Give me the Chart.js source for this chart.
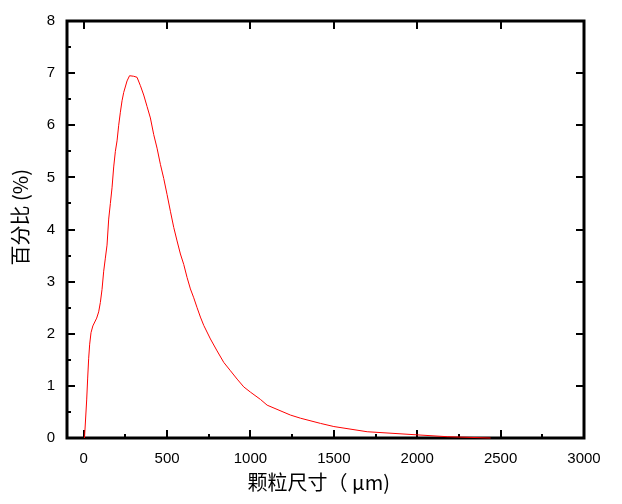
<!DOCTYPE html>
<html>
<head>
<meta charset="utf-8">
<script src="https://cdn.jsdelivr.net/npm/chart.js@4"></script>
<style>
  html, body { margin: 0; padding: 0; background: #fff; }
  #wrap { width: 622px; height: 504px; }
</style>
</head>
<body>
<div id="wrap"><canvas id="sizeChart" width="622" height="504"></canvas></div>
<script>
// particle size (um) and percentage
const sizes = [5, 18, 24, 30, 36, 44, 55, 78, 90, 100, 110, 120, 130, 140, 150, 160, 170, 180, 190, 200,
  210, 220, 230, 240, 260, 275, 300, 320, 340, 360, 380, 400, 420, 440, 460, 480, 500, 520, 540, 560,
  580, 600, 620, 640, 660, 680, 700, 720, 760, 800, 840, 880, 920, 960, 1000, 1060, 1100, 1240, 1300,
  1420, 1500, 1700, 2000, 2180, 2440];
const percents = [0, 0.73, 1.15, 1.53, 1.8, 2.02, 2.15, 2.3, 2.42, 2.6, 2.85, 3.2, 3.45, 3.7, 4.2, 4.5, 4.8, 5.2, 5.5, 5.7,
  6.0, 6.25, 6.47, 6.63, 6.85, 6.95, 6.94, 6.92, 6.76, 6.58, 6.36, 6.14, 5.82, 5.56, 5.25, 4.98, 4.67, 4.35, 4.04, 3.78,
  3.53, 3.33, 3.08, 2.86, 2.69, 2.5, 2.32, 2.16, 1.9, 1.67, 1.45, 1.29, 1.13, 0.98, 0.88, 0.74, 0.63, 0.44, 0.38,
  0.28, 0.22, 0.12, 0.06, 0.025, 0];

const xTicks = [0, 500, 1000, 1500, 2000, 2500, 3000];
const xMinor = [250, 750, 1250, 1750, 2250, 2750];
const yTicks = [0, 1, 2, 3, 4, 5, 6, 7, 8];
const yMinor = [0.5, 1.5, 2.5, 3.5, 4.5, 5.5, 6.5, 7.5];

const points = sizes.map((s, i) => ({ x: s, y: percents[i] }));

// frame with inward tick marks, drawn from the scales
const framePlugin = {
  id: "frame",
  beforeDatasetsDraw(chart) {
    const { ctx, chartArea: a, scales: { x, y } } = chart;
    ctx.save();
    ctx.strokeStyle = "#000";
    ctx.lineWidth = 2;
    ctx.beginPath();
    xTicks.forEach(v => {
      const px = Math.round(x.getPixelForValue(v));
      ctx.moveTo(px, a.bottom); ctx.lineTo(px, a.bottom - 8);
      ctx.moveTo(px, a.top); ctx.lineTo(px, a.top + 8);
    });
    xMinor.forEach(v => {
      const px = Math.round(x.getPixelForValue(v));
      ctx.moveTo(px, a.bottom); ctx.lineTo(px, a.bottom - 4);
    });
    yTicks.forEach(v => {
      const py = Math.round(y.getPixelForValue(v));
      ctx.moveTo(a.left, py); ctx.lineTo(a.left + 8, py);
      ctx.moveTo(a.right, py); ctx.lineTo(a.right - 8, py);
    });
    yMinor.forEach(v => {
      const py = Math.round(y.getPixelForValue(v));
      ctx.moveTo(a.left, py); ctx.lineTo(a.left + 4, py);
    });
    ctx.stroke();
    ctx.lineWidth = 3;
    ctx.strokeRect(a.left, a.top, a.right - a.left, a.bottom - a.top);
    ctx.restore();
  }
};

const tickFont = { family: "Liberation Sans", size: 15 };
const titleFont = { family: "Noto Sans CJK SC", size: 20 };

new Chart(document.getElementById("sizeChart"), {
  type: "line",
  data: {
    datasets: [{
      data: points,
      borderColor: "#ff0000",
      borderWidth: 1,
      pointRadius: 0,
      tension: 0,
      fill: false,
      clip: false
    }]
  },
  options: {
    responsive: false,
    animation: false,
    layout: { padding: { left: 0, top: 21, right: 38, bottom: 0 } },
    plugins: { legend: { display: false }, tooltip: { enabled: false } },
    scales: {
      x: {
        type: "linear",
        min: -100,
        max: 3000,
        afterBuildTicks: s => { s.ticks = xTicks.map(v => ({ value: v })); },
        afterFit: s => { s.height = 66; },
        grid: { display: false, drawTicks: false },
        border: { display: false },
        ticks: { color: "#000", padding: 12, maxRotation: 0, font: tickFont, callback: v => String(v) },
        title: {
          display: true,
          text: "颗粒尺寸（ μm)   ",
          color: "#000",
          padding: { top: 4, bottom: 10 },
          font: titleFont
        }
      },
      y: {
        min: 0,
        max: 8,
        afterBuildTicks: s => { s.ticks = yTicks.map(v => ({ value: v })); },
        afterFit: s => { s.width = 67; },
        grid: { display: false, drawTicks: false },
        border: { display: false },
        ticks: { color: "#000", padding: 12, font: tickFont, callback: v => String(v) },
        title: {
          display: true,
          text: "　 百分比 (%)",
          color: "#000",
          padding: { top: 8, bottom: 4 },
          font: titleFont
        }
      }
    }
  },
  plugins: [framePlugin]
});
</script>
</body>
</html>
